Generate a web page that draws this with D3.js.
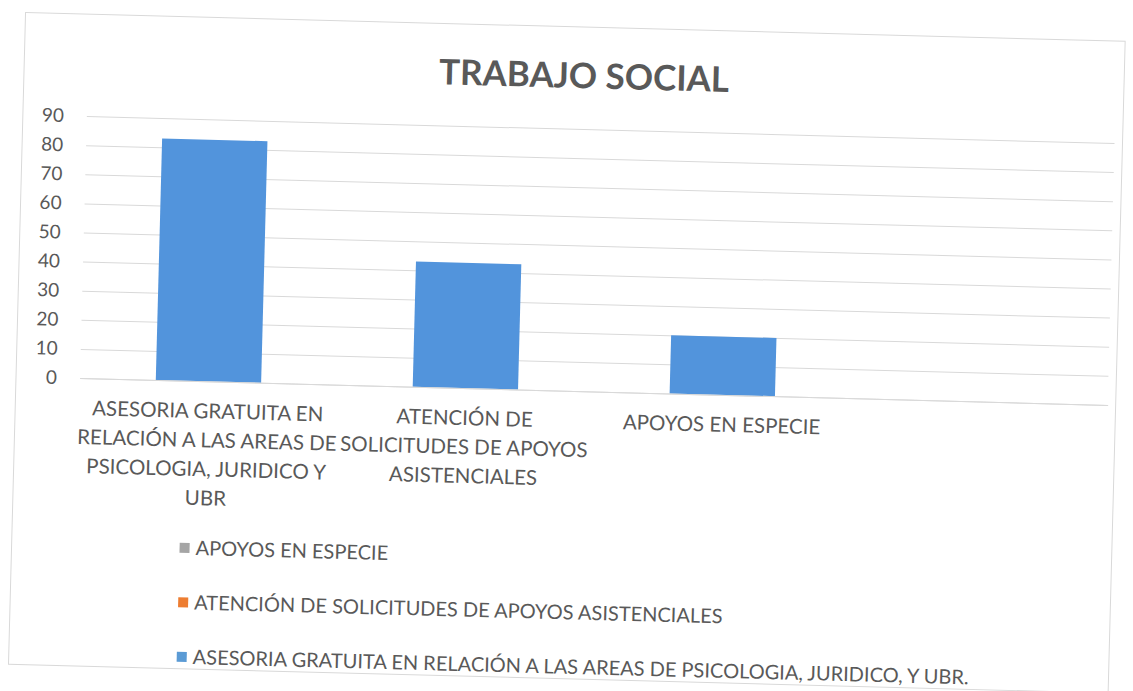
<!DOCTYPE html>
<html>
<head>
<meta charset="utf-8">
<script src="https://cdn.jsdelivr.net/npm/d3@7"></script>
<style>
  body { margin: 0; background: #fff; overflow: hidden; }
  svg { display: block; }
</style>
</head>
<body>
<div id="chart"></div>
<script>
// Data
const categories = [
  "ASESORIA GRATUITA EN RELACIÓN A LAS AREAS DE PSICOLOGIA, JURIDICO Y UBR",
  "ATENCIÓN DE SOLICITUDES DE APOYOS ASISTENCIALES",
  "APOYOS EN ESPECIE",
  ""
];
const values = [83, 43, 20, null];
const tickLines = [
  ["ASESORIA GRATUITA EN", "RELACIÓN A LAS AREAS DE", "PSICOLOGIA, JURIDICO Y", "UBR"],
  ["ATENCIÓN DE", "SOLICITUDES DE APOYOS", "ASISTENCIALES"],
  ["APOYOS EN ESPECIE"],
  []
];
const yTicks = [0, 10, 20, 30, 40, 50, 60, 70, 80, 90];
const legendNames = [
  "APOYOS EN ESPECIE",
  "ATENCIÓN DE SOLICITUDES DE APOYOS ASISTENCIALES",
  "ASESORIA GRATUITA EN RELACIÓN A LAS AREAS DE PSICOLOGIA, JURIDICO, Y UBR."
];
const legendColors = ["#a5a5a5", "#ed7d31", "#5b9bd5"];

const width = 1133;
const height = 691;
const margin = { top: 116, right: 25, bottom: 313, left: 80 };
const innerWidth = width - margin.left - margin.right;
const innerHeight = height - margin.top - margin.bottom;
const fontFamily = "Lato, 'Open Sans', sans-serif";

const svg = d3.select("#chart")
  .append("svg")
  .attr("width", width)
  .attr("height", height)
  .attr("font-family", fontFamily);

// the scan is tilted a little clockwise
const page = svg.append("g")
  .attr("transform", `rotate(1.5, ${margin.left}, ${margin.top + innerHeight})`);

// chart area border
page.append("rect")
  .attr("x", 16)
  .attr("y", 14)
  .attr("width", 1100)
  .attr("height", 652)
  .attr("fill", "none")
  .attr("stroke", "#d9d9d9")
  .attr("stroke-width", 1);

const g = page.append("g")
  .attr("transform", `translate(${margin.left},${margin.top})`);

const xScale = d3.scaleBand()
  .domain(categories)
  .range([0, innerWidth])
  .paddingInner(0.59)
  .paddingOuter(0.295);

const yScale = d3.scaleLinear()
  .domain([0, 90])
  .range([innerHeight, 0]);

// Gridlines
g.append("g")
  .call(d3.axisLeft(yScale).tickValues(yTicks).tickSize(-innerWidth).tickFormat(""))
  .call(a => a.select(".domain").remove())
  .call(a => a.selectAll("line").attr("stroke", "#d9d9d9").attr("stroke-width", 1));

// Y axis
g.append("g")
  .attr("transform", "translate(-23,0)")
  .call(d3.axisLeft(yScale).tickValues(yTicks).tickSize(0).tickPadding(0))
  .attr("font-family", fontFamily)
  .attr("font-size", 19)
  .call(a => a.select(".domain").remove())
  .call(a => a.selectAll("text").attr("fill", "#595959"));

// Bars
g.selectAll(".bar")
  .data(categories.map((c, i) => ({ c, v: values[i] })).filter(d => d.v != null))
  .enter().append("rect")
    .attr("class", "bar")
    .attr("x", d => xScale(d.c))
    .attr("y", d => yScale(d.v))
    .attr("width", xScale.bandwidth())
    .attr("height", d => innerHeight - yScale(d.v))
    .attr("fill", "#5294dc");

// X axis
const xAxisG = g.append("g")
  .attr("transform", `translate(0,${innerHeight})`)
  .call(d3.axisBottom(xScale).tickSize(0).tickFormat(""))
  .attr("font-family", fontFamily)
  .attr("font-size", 20.5);
xAxisG.select(".domain").attr("stroke", "#d9d9d9");

xAxisG.selectAll(".tick text")
  .attr("fill", "#595959")
  .attr("y", 0)
  .attr("dy", null)
  .each(function(d, i) {
    d3.select(this).selectAll("tspan")
      .data(tickLines[i])
      .enter().append("tspan")
        .attr("x", 0)
        .attr("y", (l, j) => 37 + j * 29)
        .text(l => l);
  });

// Title
page.append("text")
  .attr("x", 576)
  .attr("y", 75)
  .attr("text-anchor", "middle")
  .attr("fill", "#595959")
  .attr("font-size", 35)
  .attr("font-weight", "bold")
  .text("TRABAJO SOCIAL");

// Legend
const legend = page.append("g")
  .attr("transform", "translate(184, 545)");

legendNames.forEach((name, i) => {
  const item = legend.append("g")
    .attr("transform", `translate(0, ${i * 54.5})`);
  item.append("rect")
    .attr("x", 0)
    .attr("y", -5)
    .attr("width", 10)
    .attr("height", 10)
    .attr("fill", legendColors[i]);
  item.append("text")
    .attr("x", 16)
    .attr("y", 7)
    .attr("fill", "#595959")
    .attr("font-size", 20)
    .text(name);
});
</script>
</body>
</html>
